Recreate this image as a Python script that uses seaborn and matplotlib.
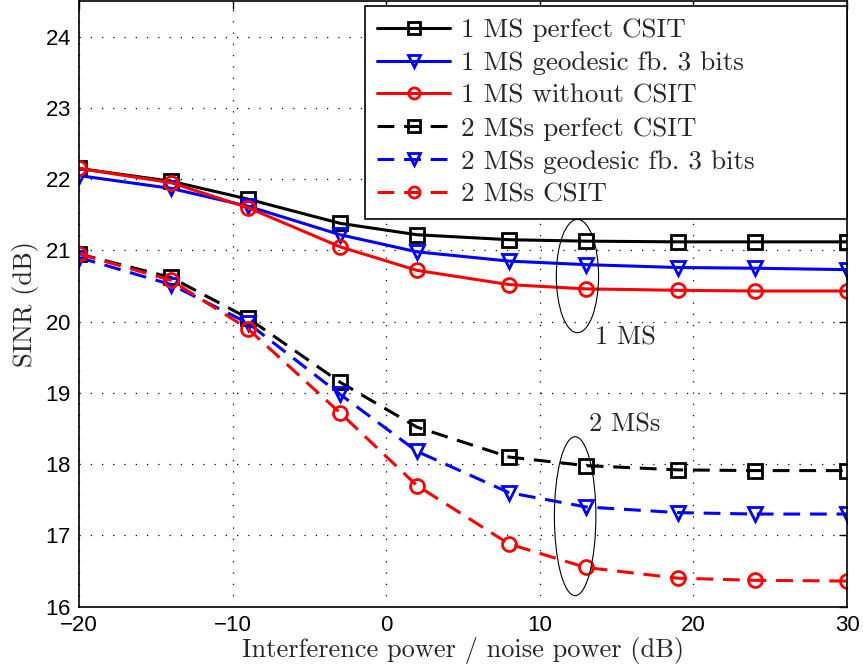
import matplotlib
matplotlib.use("Agg")
import matplotlib.pyplot as plt
from matplotlib.patches import Ellipse
import seaborn as sns
import numpy as np

x_vals = [-20, -14, -9, -3, 2, 8, 13, 19, 24, 30]

ms1_perfect = [22.15, 21.97, 21.72, 21.38, 21.22, 21.15, 21.13, 21.12, 21.12, 21.12]
ms1_geodesic = [22.05, 21.87, 21.62, 21.22, 20.98, 20.85, 20.80, 20.76, 20.75, 20.73]
ms1_without = [22.15, 21.95, 21.60, 21.05, 20.72, 20.52, 20.46, 20.44, 20.43, 20.43]
ms2_perfect = [20.95, 20.62, 20.05, 19.15, 18.52, 18.10, 17.98, 17.92, 17.91, 17.91]
ms2_geodesic = [20.90, 20.52, 19.98, 18.98, 18.18, 17.60, 17.40, 17.32, 17.30, 17.30]
ms2_csit = [20.95, 20.58, 19.90, 18.72, 17.70, 16.88, 16.55, 16.40, 16.37, 16.36]

labels = ["1 MS perfect CSIT", "1 MS geodesic fb. 3 bits", "1 MS without CSIT",
          "2 MSs perfect CSIT", "2 MSs geodesic fb. 3 bits", "2 MSs CSIT"]
series = [ms1_perfect, ms1_geodesic, ms1_without, ms2_perfect, ms2_geodesic, ms2_csit]
colors = ["black", "blue", "red", "black", "blue", "red"]
markers = ["s", "v", "o", "s", "v", "o"]
dashed = [False, False, False, True, True, True]

sns.set_style("white")
plt.rcParams["mathtext.fontset"] = "cm"
plt.rcParams["axes.formatter.use_mathtext"] = True

fig = plt.figure(figsize=(8.63, 6.72), dpi=100)
ax = fig.add_axes([0.0915, 0.0972, 0.89, 0.9013])

for lab, vals, c, m, d in zip(labels, series, colors, markers, dashed):
    ls = (0, (5.5, 3.2)) if d else "-"
    sns.lineplot(x=x_vals, y=vals, ax=ax, color=c, marker=m, markersize=10,
                 markerfacecolor="none", markeredgecolor=c, markeredgewidth=2,
                 linewidth=2.2, linestyle=ls, label=lab)

ax.set_xlim(-20, 30)
ax.set_ylim(16, 24.5)
ax.set_xticks([-20, -10, 0, 10, 20, 30])
ax.set_yticks([16, 17, 18, 19, 20, 21, 22, 23, 24])
ax.set_xticklabels(["\u221220", "\u221210", "0", "10", "20", "30"])
for t in ax.get_xticklabels() + ax.get_yticklabels():
    t.set_fontfamily("Liberation Sans")
    t.set_fontsize(16)
ax.tick_params(direction="in", length=6, width=1, top=True, right=True, pad=6, colors="black")
ax.grid(True, linestyle=(0, (1, 8)), color="black", linewidth=0.9)
for s in ax.spines.values():
    s.set_color("black")
    s.set_linewidth(1.2)

ax.set_xlabel("Interference power / noise power (dB)", fontfamily="cmr10", fontsize=19, labelpad=1)
ax.set_ylabel("SINR (dB)", fontfamily="cmr10", fontsize=19, labelpad=4)

leg_left = 0.3724
leg_top = 0.9917
leg_bottom = 0.6516
leg = ax.legend(loc="upper left", bbox_to_anchor=(leg_left, leg_bottom, 1.0 - leg_left, leg_top - leg_bottom),
                mode="expand", borderaxespad=0,
                prop={"family": "cmr10", "size": 19.5}, frameon=True, fancybox=False,
                framealpha=1, edgecolor="black", handlelength=2.7, handletextpad=0.38,
                labelspacing=0.33, borderpad=0.45, markerscale=0.8)
leg.get_frame().set_linewidth(1.2)

ax.add_patch(Ellipse((12.45, 20.64), 2.75, 1.59, fill=False, edgecolor="black", linewidth=0.8, zorder=5))
ax.add_patch(Ellipse((12.3, 17.27), 2.7, 2.23, fill=False, edgecolor="black", linewidth=0.8, zorder=5))
ax.text(15.55, 19.77, "1 MS", fontfamily="cmr10", fontsize=19, ha="center", va="center")
ax.text(15.55, 18.55, "2 MSs", fontfamily="cmr10", fontsize=19, ha="center", va="center")

fig.savefig("out.png", dpi=100)
